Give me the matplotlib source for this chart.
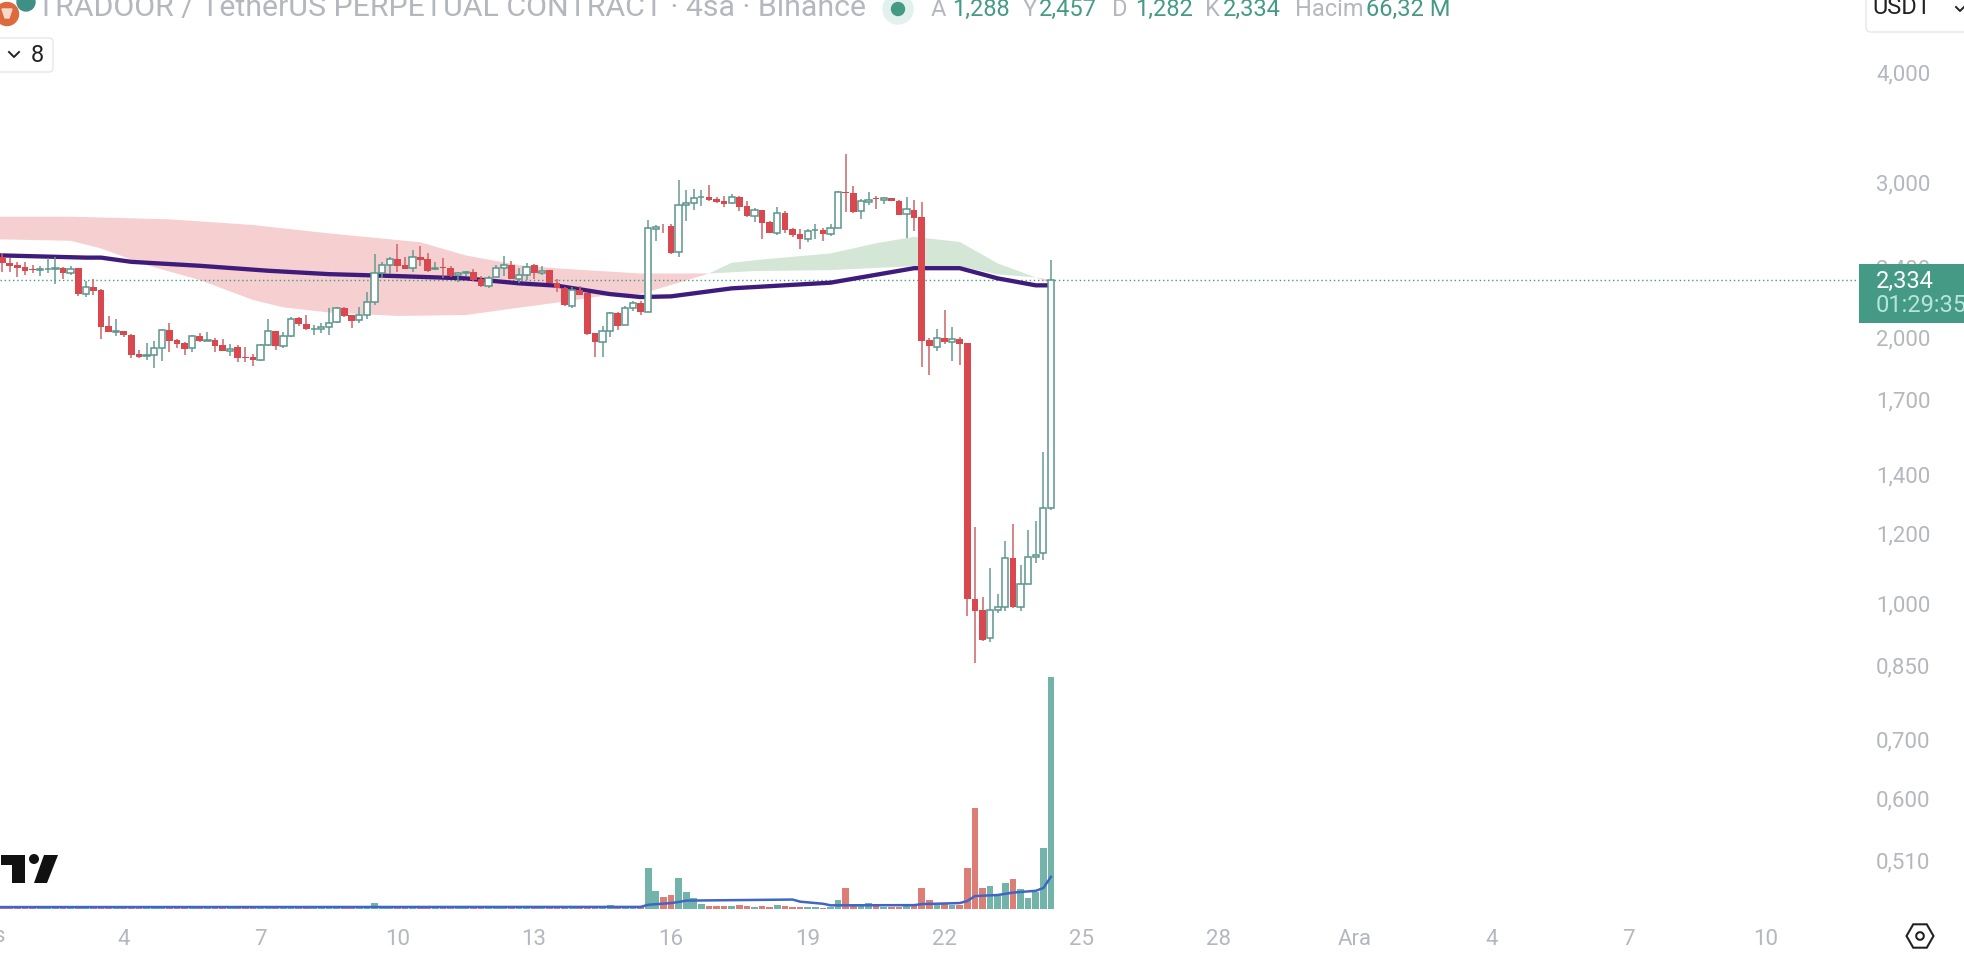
from matplotlib import pyplot as plt
from matplotlib.patches import Circle, FancyBboxPatch, Polygon, RegularPolygon, Rectangle
import numpy as np

plt.rcParams['font.family'] = ['Roboto', 'DejaVu Sans']

opens = [2.470,2.431,2.416,2.404,2.391,2.387,2.389,2.389,2.395,2.370,
         2.395,2.242,2.280,2.262,2.060,2.031,2.033,2.014,1.914,1.908,
         1.910,1.945,2.038,1.987,1.970,1.945,2.009,1.984,1.986,1.960,
         1.933,1.950,1.901,1.901,1.888,1.960,2.033,1.958,2.007,2.103,
         2.071,2.044,2.044,2.055,2.082,2.158,2.119,2.092,2.119,2.193,
         2.368,2.414,2.452,2.414,2.395,2.466,2.452,2.389,2.402,2.395,
         2.352,2.364,2.376,2.328,2.290,2.344,2.400,2.420,2.332,2.355,
         2.414,2.368,2.383,2.308,2.274,2.174,2.262,2.244,2.022,1.975,
         2.036,2.130,2.064,2.158,2.189,2.140,2.658,2.679,2.677,2.498,
         2.824,2.839,2.885,2.887,2.872,2.856,2.839,2.887,2.820,2.750,
         2.791,2.707,2.631,2.770,2.656,2.621,2.590,2.647,2.647,2.624,
         2.665,2.922,2.915,2.782,2.852,2.880,2.862,2.877,2.857,2.760,
         2.791,2.740,1.987,1.950,1.996,1.979,1.992,1.970,1.010,0.982,
         0.912,0.981,0.990,1.124,0.990,1.050,1.127,1.139,1.280]
highs = [2.491,2.464,2.437,2.437,2.416,2.412,2.459,2.466,2.406,2.410,
         2.400,2.318,2.328,2.268,2.116,2.098,2.036,2.019,1.936,1.970,
         1.982,2.044,2.076,1.991,1.979,2.014,2.022,2.027,1.996,1.991,
         1.965,1.962,1.953,1.916,1.967,2.100,2.035,2.027,2.112,2.112,
         2.121,2.067,2.076,2.158,2.164,2.164,2.121,2.164,2.254,2.485,
         2.433,2.466,2.553,2.466,2.513,2.540,2.491,2.433,2.459,2.410,
         2.372,2.381,2.389,2.348,2.348,2.416,2.474,2.443,2.395,2.431,
         2.423,2.410,2.385,2.332,2.284,2.284,2.288,2.248,2.026,2.062,
         2.140,2.140,2.172,2.202,2.198,2.719,2.684,2.688,2.688,3.018,
         2.940,2.945,2.940,2.979,2.890,2.895,2.910,2.895,2.857,2.803,
         2.791,2.712,2.810,2.786,2.663,2.654,2.654,2.690,2.660,2.690,
         2.933,3.228,2.971,2.869,2.925,2.895,2.890,2.882,2.864,2.885,
         2.864,2.850,1.996,2.044,2.149,2.055,2.002,1.972,1.221,1.017,
         1.095,1.024,1.176,1.229,1.104,1.210,1.239,1.483,2.449]
lows = [2.374,2.374,2.344,2.354,2.368,2.350,2.364,2.298,2.330,2.354,
        2.231,2.225,2.235,1.994,2.027,2.009,2.005,1.898,1.898,1.886,
        1.849,1.883,1.928,1.948,1.911,1.928,1.975,1.982,1.928,1.931,
        1.908,1.878,1.878,1.859,1.881,1.958,1.936,1.945,2.005,2.062,
        2.040,2.014,2.025,2.011,2.076,2.112,2.053,2.080,2.101,2.178,
        2.334,2.360,2.375,2.389,2.375,2.410,2.375,2.385,2.334,2.344,
        2.314,2.348,2.318,2.284,2.278,2.344,2.348,2.328,2.304,2.323,
        2.330,2.354,2.304,2.254,2.174,2.158,2.234,2.015,1.903,1.903,
        2.005,2.040,2.064,2.145,2.121,2.140,2.576,2.626,2.486,2.470,
        2.712,2.791,2.822,2.859,2.844,2.815,2.834,2.786,2.743,2.702,
        2.590,2.626,2.614,2.626,2.603,2.520,2.567,2.590,2.574,2.608,
        2.665,2.779,2.772,2.726,2.829,2.796,2.834,2.857,2.753,2.596,
        2.644,1.853,1.812,1.930,1.964,1.882,1.861,0.967,0.854,0.906,
        0.904,0.973,0.980,0.987,0.980,1.050,1.109,1.119,1.276]
closes = [2.431,2.412,2.400,2.381,2.387,2.391,2.391,2.395,2.368,2.393,
          2.240,2.284,2.260,2.058,2.031,2.033,2.011,1.911,1.903,1.910,
          1.945,2.038,1.984,1.968,1.943,2.007,1.984,1.986,1.958,1.933,
          1.943,1.898,1.898,1.886,1.960,2.033,1.958,2.007,2.098,2.071,
          2.044,2.046,2.055,2.076,2.158,2.118,2.090,2.119,2.193,2.368,
          2.414,2.452,2.412,2.393,2.466,2.450,2.381,2.400,2.395,2.348,
          2.368,2.376,2.322,2.288,2.338,2.395,2.416,2.332,2.356,2.406,
          2.368,2.381,2.308,2.274,2.178,2.262,2.236,2.019,1.975,2.036,
          2.130,2.062,2.158,2.187,2.138,2.660,2.672,2.674,2.491,2.824,
          2.839,2.877,2.887,2.867,2.849,2.837,2.885,2.812,2.750,2.788,
          2.700,2.631,2.767,2.651,2.614,2.590,2.644,2.649,2.621,2.665,
          2.922,2.915,2.776,2.854,2.867,2.875,2.877,2.859,2.757,2.796,
          2.736,1.983,1.954,1.996,1.977,1.990,1.966,1.011,0.980,0.909,
          0.981,0.990,1.124,0.990,1.050,1.127,1.134,1.280,2.322]

volumes = [0.35,0.3,0.35,0.3,0.35,0.3,0.35,0.3,0.35,0.3,0.4,0.3,0.4,1.0,0.35,
           0.3,0.35,0.3,0.35,0.3,0.35,0.3,0.35,0.3,0.3,0.35,0.3,0.35,0.3,0.35,
           0.3,0.35,0.3,0.3,0.35,0.3,0.35,0.3,0.35,0.3,0.35,0.3,0.35,0.3,0.35,
           0.3,0.35,0.3,0.4,1.7,0.4,0.35,0.4,0.35,0.4,0.35,0.4,0.35,0.4,0.35,
           0.4,0.35,0.4,0.35,0.4,0.35,0.4,0.35,0.4,0.35,0.4,0.35,0.4,0.35,0.4,
           0.35,0.4,0.4,0.5,0.5,1.1,0.4,0.4,0.4,0.5,
           11.7,5.1,3.4,4.0,8.8,4.9,3.1,1.4,0.9,0.9,0.9,0.9,1.1,0.9,0.6,
           0.9,0.6,1.1,0.9,0.6,0.6,0.6,0.6,0.3,0.6,2.6,6.0,1.0,1.0,
           1.6,1.0,0.6,0.6,0.6,1.0,1.0,6.0,2.6,1.6,1.6,1.2,1.1,11.7,28.8,
           6.0,6.6,4.0,7.4,8.6,5.7,3.1,5.0,17.3,66.32]

ema_idx = [-2,12,14,18,27,36,44,53,62,69,74,81,85,89,97,110,121,127,132,137,139]
ema_val = [2.482,2.464,2.464,2.437,2.412,2.381,2.360,2.348,2.334,2.304,2.290,
           2.240,2.223,2.227,2.274,2.308,2.397,2.397,2.334,2.292,2.292]

vol_ma_idx = [-2,85,86,89,90,91,105,106,109,110,121,122,127,128,129,132,134,137,138,139]
vol_ma_val = [0.55,0.6,1.2,1.7,2.0,2.4,2.7,2.1,1.5,1.05,1.1,1.4,1.7,2.3,3.7,4.0,
              4.7,5.2,6.0,9.2]

red_up_idx = [-2,10,23,34,44,56,62,69,74,80,85,94]
red_up_val = [2.742,2.742,2.723,2.683,2.625,2.565,2.478,2.416,2.396,2.378,2.364,2.364]
red_lo_idx = [-2,10,14,20,27,34,38,44,53,62,69,74,80,85,89,94]
red_lo_val = [2.587,2.575,2.524,2.416,2.324,2.206,2.164,2.135,2.116,2.121,2.162,
              2.191,2.229,2.240,2.294,2.364]
green_up_idx = [94,97,101,110,116,121,127,132,137]
green_up_val = [2.364,2.431,2.452,2.491,2.558,2.601,2.567,2.427,2.340]
green_lo_idx = [94,100,110,121,127,132,137]
green_lo_val = [2.364,2.379,2.385,2.410,2.410,2.358,2.340]
end_idx = [137,139,139]
end_val = [2.340,2.324,2.304]

price_ticks = [4.0,3.0,2.4,2.0,1.7,1.4,1.2,1.0,0.85,0.7,0.6,0.51]
price_labels = ["4,000","3,000","2,400","2,000","1,700","1,400","1,200","1,000",
                "0,850","0,700","0,600","0,510"]
date_ticks = [17,35,53,71,89,107,125,143,161,179,197,215,233]
date_labels = ["4","7","10","13","16","19","22","25","28","Ara","4","7","10"]

RED = '#d9484f'
RED_WICK = '#c8666b'
GREEN = '#5a968c'
GREEN_WICK = '#659b92'
VOL_GREEN = '#72b4aa'
VOL_RED = '#dc7e76'
GRAY = '#b4b7be'
TEAL = '#459a85'

W, H = 1964, 956
fig = plt.figure(figsize=(W/100, H/100), dpi=100)
rect = [0, 1-915/H, 1858/W, 915/H]
ax = fig.add_axes(rect)
axv = fig.add_axes(rect, sharex=ax)
ax.set_zorder(2)
axv.set_zorder(1)
ax.patch.set_visible(False)

idx = np.arange(1, len(opens)+1)
o = np.array(opens)
c = np.array(closes)
up = c >= o

# volume pane
axv.bar(idx[up], np.array(volumes)[up], width=0.88, color=VOL_GREEN)
axv.bar(idx[~up], np.array(volumes)[~up], width=0.88, color=VOL_RED)
axv.plot(vol_ma_idx, vol_ma_val, color='#3f66c6', lw=1.8)
axv.set_ylim(-1.715, 259.9)
axv.axis('off')

# moving average ribbon
ax.fill(red_up_idx+red_lo_idx[::-1], red_up_val+red_lo_val[::-1], color='#f6cfd0', lw=0)
ax.fill(green_up_idx+green_lo_idx[::-1], green_up_val+green_lo_val[::-1], color='#d4e6d5', lw=0)
ax.fill(end_idx, end_val, color='#f6cfd0', lw=0)
ax.plot(ema_idx, ema_val, color='#3f1c7c', lw=3.1, zorder=4)

ax.axhline(closes[-1], color=TEAL, lw=1, ls=(0, (1, 2)), zorder=3)

# candles
ax.vlines(idx[up], np.array(lows)[up], np.array(highs)[up], color=GREEN_WICK, lw=1.1, zorder=5)
ax.vlines(idx[~up], np.array(lows)[~up], np.array(highs)[~up], color=RED_WICK, lw=1.1, zorder=5)
ax.bar(idx[up], (c-o)[up], bottom=o[up], width=0.82, facecolor='white', edgecolor=GREEN, lw=1.1, zorder=6)
ax.bar(idx[~up], (o-c)[~up], bottom=c[~up], width=0.88, color=RED, lw=0, zorder=6)

ax.set_yscale('log')
ax.yaxis.tick_right()
ax.set_yticks(price_ticks)
ax.set_yticklabels(price_labels)
ax.minorticks_off()
ax.set_xticks(date_ticks)
ax.set_xticklabels(date_labels)
ax.set_ylim(0.4428, 4.828)
ax.set_xlim(0.71, 245.2)
ax.tick_params(axis='y', length=0, pad=13, labelsize=16, labelcolor=GRAY)
ax.tick_params(axis='x', length=0, pad=10, labelsize=16, labelcolor=GRAY)
for side in ax.spines:
    ax.spines[side].set_visible(False)

# header, badge and logos, placed in pixels
top = fig.add_axes([0, 0, 1, 1], zorder=5)
top.set_xlim(0, W)
top.set_ylim(H, 0)
top.axis('off')
top.patch.set_visible(False)

top.text(-13, 937, "Kas", color=GRAY, fontsize=16, ha='center', va='center')

top.add_patch(Circle((26, 2), 9, color='#3f8f86'))
top.add_patch(Circle((7, 14), 11.5, color='#dd6a3d'))
top.add_patch(Polygon([(2, 9), (12, 9), (9, 18), (5, 18)], color='#f5d9cc'))
top.text(37, 8, "TRADOOR / TetherUS PERPETUAL CONTRACT · 4sa · Binance", color=GRAY,
         fontsize=21.8, va='center')
top.add_patch(Circle((898, 9), 15, color='#e2f1ed'))
top.add_patch(Circle((898, 9), 6.5, color=TEAL))
header = [(931, "A", GRAY), (952, "1,288", TEAL), (1023, "Y", GRAY), (1039, "2,457", TEAL),
          (1112, "D", GRAY), (1135, "1,282", TEAL), (1205, "K", GRAY), (1223, "2,334", TEAL),
          (1295, "Hacim", GRAY), (1366, "66,32 M", TEAL)]
for x, s, col in header:
    top.text(x, 9, s, color=col, fontsize=17, va='center')

top.add_patch(FancyBboxPatch((-10, 38), 63, 34, boxstyle="round,pad=0,rounding_size=4",
                             fc='white', ec='#e6e7ea', lw=1))
top.plot([9, 14, 19], [52, 57, 52], color='#222222', lw=1.4)
top.text(31, 55, "8", color='#222222', fontsize=17, va='center')

top.add_patch(FancyBboxPatch((1866, -20), 120, 52, boxstyle="round,pad=0,rounding_size=5",
                             fc='white', ec='#e6e7ea', lw=1))
top.text(1872, 7, "USDT", color='#222222', fontsize=17, va='center')
top.plot([1956, 1960, 1964], [7, 11, 7], color='#222222', lw=1.4)

top.add_patch(Rectangle((1859, 264), 105, 59, color=TEAL, lw=0))
top.text(1876, 281, "2,334", color='white', fontsize=17, va='center')
top.text(1876, 306, "01:29:35", color='#b9e5d8', fontsize=17, va='center')

# TradingView mark
top.add_patch(Polygon([(1, 855), (25, 855), (25, 883), (12, 883), (12, 865), (1, 865)], color='#111111', lw=0))
top.add_patch(Circle((34, 859), 5, color='#111111', lw=0))
top.add_patch(Polygon([(44, 855), (58, 855), (47, 883), (34, 883)], color='#111111', lw=0))

top.add_patch(RegularPolygon((1920, 936), 6, radius=13.5, orientation=np.pi/6, fc='white', ec='#222222', lw=1.5))
top.add_patch(Circle((1920, 936), 3.8, fc='white', ec='#222222', lw=1.5))

fig.savefig('out.png', dpi=100)
